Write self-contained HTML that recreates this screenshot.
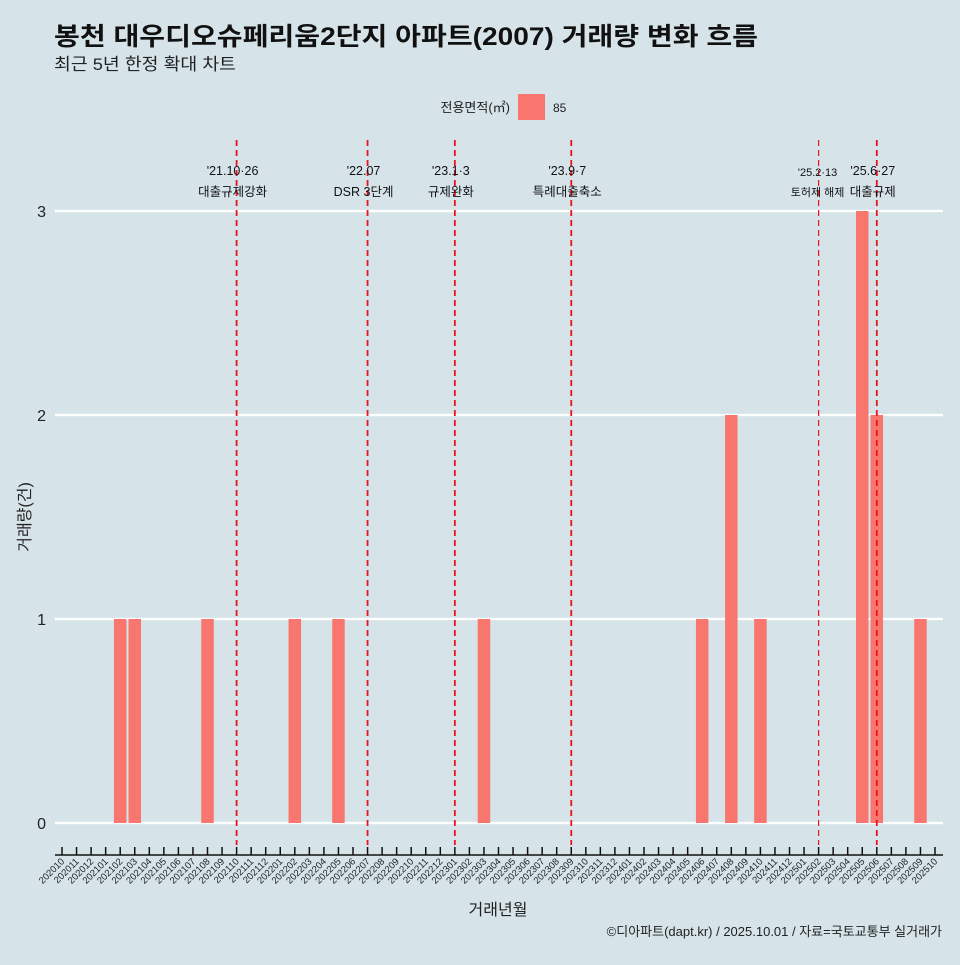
<!DOCTYPE html>
<html><head><meta charset="utf-8"><style>
body{margin:0;background:#d6e4ea;}
svg text{font-family:"Liberation Sans","Noto Sans CJK KR",sans-serif;}
</style></head><body>
<svg width="960" height="960" viewBox="0 0 960 960" xmlns="http://www.w3.org/2000/svg">
<rect width="960" height="960" fill="#d6e4ea"/>
<text x="54" y="45" font-size="25" font-weight="bold" fill="#111" textLength="704" lengthAdjust="spacingAndGlyphs">봉천 대우디오슈페리움2단지 아파트(2007) 거래량 변화 흐름</text>
<text x="54" y="70" font-size="17" fill="#222" textLength="182" lengthAdjust="spacingAndGlyphs">최근 5년 한정 확대 차트</text>
<g>
<text x="510" y="112" font-size="13" text-anchor="end" fill="#222">전용면적(㎡)</text>
<rect x="518" y="94" width="27" height="26" fill="#f8766d"/>
<text x="553" y="112" font-size="12" fill="#222">85</text>
</g>
<g id="grid"></g><g id="bars"></g><g id="events"></g><g id="xaxis"></g>
<text x="30" y="517" font-size="16" fill="#222" text-anchor="middle" transform="rotate(-90 30 517)">거래량(건)</text>
<text x="498" y="915" font-size="16" fill="#222" text-anchor="middle">거래년월</text>
<text x="942" y="936" font-size="13" fill="#222" text-anchor="end">©디아파트(dapt.kr) / 2025.10.01 / 자료=국토교통부 실거래가</text>
</svg>
<script>
const months=[];for(let y=2020,m=10;y*100+m<=202510;){months.push(String(y*100+m));m++;if(m>12){m=1;y++;}}
const barMonths=["202102","202103","202108","202202","202205","202303","202406","202408","202410","202505","202506","202509"];
const barValues=[1,1,1,1,1,1,1,2,1,3,2,1];
const yTicks=[0,1,2,3];
const eventMonths=["202110","202207","202301","202309","202502","202506"];
const eventDates=["'21.10·26","'22.07","'23.1·3","'23.9·7","'25.2·13","'25.6·27"];
const eventNames=["대출규제강화","DSR 3단계","규제완화","특례대출축소","토허제 해제","대출규제"];
const NS="http://www.w3.org/2000/svg";
const xs=i=>62+i*(935-62)/60;
const xm=m=>xs(months.indexOf(m));
const ys=v=>823-v*204;
function mk(t,a,p){const e=document.createElementNS(NS,t);for(const k in a)e.setAttribute(k,a[k]);p.appendChild(e);return e;}
const g=document.getElementById('grid');
yTicks.forEach(v=>{const l=mk('line',{x1:55,x2:943,y1:ys(v),y2:ys(v),stroke:'#fff','stroke-width':2.2},g);


const t=mk('text',{x:46,y:ys(v)+6,'font-size':16,'text-anchor':'end',fill:'#222'},g);t.textContent=v;

});
const b=document.getElementById('bars');
barMonths.forEach((m,i)=>{const w=12.5;const r=mk('rect',{x:xm(m)-w/2,y:ys(barValues[i]),width:w,height:ys(0)-ys(barValues[i]),fill:'#f8766d'},b);

});
const ev=document.getElementById('events');
eventMonths.forEach((m,i)=>{const x=xm(m);const thin=m==="202502";
const l=mk('line',{x1:x,x2:x,y1:140,y2:845,stroke:'#e8141c','stroke-width':thin?1.2:1.8,'stroke-dasharray':'6,4'},ev);


const fs=thin?11:12.5;
const t1=mk('text',{x:x-(thin?1:4),y:thin?176:175,'font-size':fs,'text-anchor':'middle',fill:'#111'},ev);t1.textContent=eventDates[i];


const t2=mk('text',{x:x-(thin?1:4),y:196,'font-size':fs,'text-anchor':'middle',fill:'#111'},ev);t2.textContent=eventNames[i];

});
const xa=document.getElementById('xaxis');
const al=mk('line',{x1:55,x2:943,y1:855,y2:855,stroke:'#111','stroke-width':1.5},xa);


months.forEach((m,i)=>{const x=xs(i);mk('line',{x1:x,x2:x,y1:847,y2:855,stroke:'#111','stroke-width':1.5},xa);
const t=mk('text',{x:x+3,y:862,'font-size':9.5,'text-anchor':'end',fill:'#222',transform:`rotate(-45 ${x+3} 862)`},xa);t.textContent=m;

});
</script>
</body></html>
